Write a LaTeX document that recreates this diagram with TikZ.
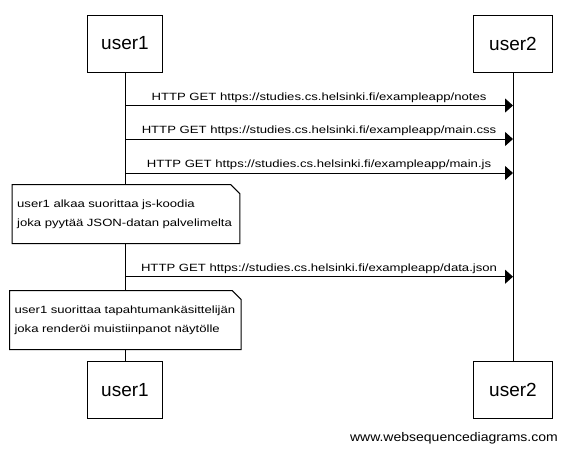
\documentclass[tikz,border=0pt]{standalone}
\usepackage{fontspec}
\setmainfont{Liberation Sans}
\newfontfamily\msgfont[FakeStretch=1.25]{Liberation Sans}
\newfontfamily\wmfont[FakeStretch=1.12]{Liberation Sans}
\usetikzlibrary{arrows.meta,calc,positioning}

\begin{document}
\begin{tikzpicture}[x=1pt,y=-1pt,line width=1pt,
        actor/.style={draw,rectangle,minimum height=57pt,inner sep=0pt,font=\fontsize{19}{22}\selectfont},
        note/.style={rectangle,fill=white,inner xsep=4.5pt,inner ysep=0pt,minimum height=58pt,align=left,font=\msgfont\fontsize{10.5}{19}\selectfont},
        msg/.style={-{Triangle[length=8pt,width=14pt]}},
        msglabel/.style={above=2.5pt,inner sep=0pt,font=\msgfont\fontsize{10.5}{13}\selectfont}
        ]
        \useasboundingbox (0,0) rectangle (567,453);

        % the participants
        \node[actor,minimum width=75.5pt] (u1top) at (125,43.5) {user1};
        \node[actor,minimum width=79pt] (u2top) at (513,43.5) {user2};
        \node[actor,minimum width=75.5pt] (u1bot) at (125,390) {user1};
        \node[actor,minimum width=79pt] (u2bot) at (513,390) {user2};

        % the lifelines
        \draw (u1top.south) -- (u1bot.north);
        \draw (u2top.south) -- (u2bot.north);

        % the requests
        \draw[msg] (u1top.south |- 0,105.5) -- (u2top.south |- 0,105.5)
            node[midway,msglabel] (m1) {HTTP GET https://studies.cs.helsinki.fi/exampleapp/notes};
        \draw[msg] (u1top.south |- 0,139) -- (u2top.south |- 0,139)
            node[midway,msglabel] (m2) {HTTP GET https://studies.cs.helsinki.fi/exampleapp/main.css};
        \draw[msg] (u1top.south |- 0,173) -- (u2top.south |- 0,173)
            node[midway,msglabel] (m3) {HTTP GET https://studies.cs.helsinki.fi/exampleapp/main.js};

        % first note
        \node[note,text width=217.6pt] (n1) at (126,214.2)
            {user1 alkaa suorittaa js-koodia\\joka pyytää JSON-datan palvelimelta};
        \draw (n1.north west) -- ($(n1.north east)+(-9,0)$) -- ($(n1.north east)+(0,9)$)
            -- (n1.south east) -- (n1.south west) -- cycle;

        \draw[msg] (u1top.south |- 0,276.7) -- (u2top.south |- 0,276.7)
            node[midway,msglabel] (m4) {HTTP GET https://studies.cs.helsinki.fi/exampleapp/data.json};

        % second note
        \node[note,text width=221.7pt] (n2) at (125.35,320)
            {user1 suorittaa tapahtumankäsittelijän\\joka renderöi muistiinpanot näytölle};
        \draw (n2.north west) -- ($(n2.north east)+(-9,0)$) -- ($(n2.north east)+(0,9)$)
            -- (n2.south east) -- (n2.south west) -- cycle;

        % the watermark
        \node[anchor=base east,inner sep=0pt,font=\wmfont\fontsize{12.5}{15}\selectfont] (wm) at (558.3,441.7)
            {www.websequencediagrams.com};
\end{tikzpicture}
\end{document}
